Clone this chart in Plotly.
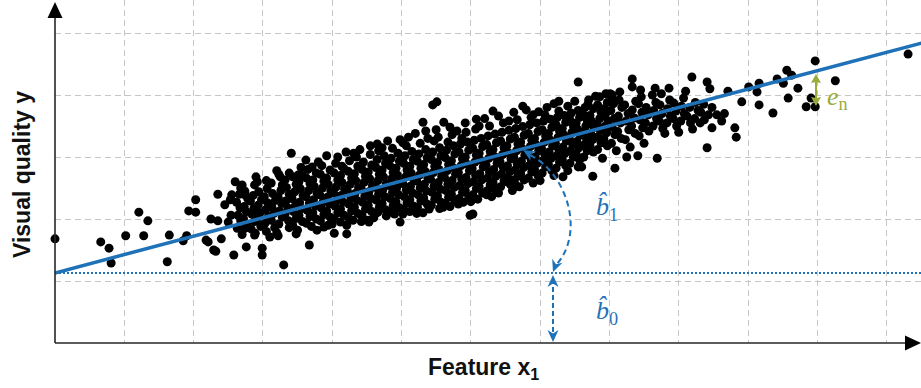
import math
import plotly.graph_objects as go

# ---------------- data ----------------
# Fitted regression: y = b0 + b1 * x
fit_b0 = 1.13
fit_b1 = 0.2965

# sparse / outlying observations
tail_x = [0.00, 0.66, 0.78, 0.81, 1.02, 1.21, 1.34, 1.28, 1.65, 1.62,
          1.85, 1.90, 1.93, 2.03, 2.03, 2.18, 2.21, 2.25, 2.35, 2.40,
          2.29, 2.32, 2.35, 2.45, 2.50, 2.53, 2.55, 2.54, 2.60, 2.58,
          2.76, 2.99, 2.99, 3.30, 3.67, 3.41, 2.74, 3.10, 3.22, 3.48,
          4.03, 4.21, 3.78, 3.94, 4.53, 4.98, 5.02, 5.31, 5.99, 6.03,
          5.60, 6.23, 6.35, 6.52, 6.61, 7.76, 8.08, 7.55, 7.33, 8.25,
          8.41, 8.69, 9.41, 5.45, 5.51, 5.31, 5.61, 5.35, 4.65, 5.02,
          4.31, 6.08, 6.32, 6.75, 6.98, 7.55, 7.27, 7.69, 7.86, 8.01,
          8.33, 8.33, 8.66, 8.86, 9.19, 9.41, 9.45, 9.71, 9.91, 10.01,
          10.16, 10.13, 10.16, 10.36, 10.42, 10.51, 10.56, 10.63, 10.72, 10.58,
          10.84, 10.91, 10.97, 10.97, 11.26, 12.31, 9.81, 9.83, 8.04, 8.04,
          3.71, 4.14, 3.25, 3.51, 4.21, 4.52, 4.66, 4.88, 5.89, 2.74,
          2.89, 9.55, 9.62, 9.66, 9.31, 9.48]
tail_y = [1.68, 1.63, 1.53, 1.29, 1.73, 2.11, 1.97, 1.73, 1.74, 1.31,
          1.65, 1.73, 2.13, 2.31, 2.11, 1.66, 1.63, 2.00, 1.97, 1.68,
          1.50, 1.48, 2.40, 2.23, 1.95, 2.31, 2.39, 2.06, 2.60, 1.42,
          1.55, 1.53, 1.42, 1.26, 1.58, 3.06, 2.39, 1.71, 1.73, 1.76,
          1.77, 1.76, 1.82, 1.90, 1.95, 1.95, 2.08, 2.10, 2.06, 2.08,
          2.19, 2.39, 2.47, 2.60, 2.63, 2.69, 2.82, 2.84, 2.68, 3.00,
          3.02, 2.98, 3.15, 3.84, 3.89, 3.56, 3.56, 3.42, 3.21, 3.23,
          3.06, 3.61, 3.74, 3.82, 3.73, 4.21, 3.90, 3.85, 3.97, 4.02,
          4.26, 4.13, 4.11, 4.11, 4.29, 4.21, 4.10, 4.06, 3.89, 4.13,
          4.19, 4.05, 3.84, 3.71, 4.26, 4.19, 4.40, 4.32, 4.11, 3.95,
          3.81, 3.95, 4.55, 3.81, 4.23, 4.66, 3.47, 3.32, 4.00, 3.92,
          2.84, 2.85, 2.68, 2.71, 1.90, 1.98, 2.11, 2.10, 2.27, 1.85,
          1.77, 3.68, 3.58, 3.70, 3.55, 3.47]

# points along the upper and lower edges of the cloud
fringe_x = [2.70, 2.90, 3.05, 3.20, 3.38, 3.55, 3.62, 3.80, 3.92, 4.08,
            4.20, 4.40, 4.55, 4.72, 4.80, 4.98, 5.10, 5.20, 5.38, 5.50,
            5.70, 5.80, 5.92, 6.12, 6.20, 6.40, 6.55, 6.62, 6.80, 6.90,
            7.10, 7.20, 7.40, 7.50, 7.70, 7.80, 7.95, 8.15, 8.45, 8.75,
            9.10,
            2.70, 2.88, 3.05, 3.20, 3.38, 3.50, 3.70, 3.88, 4.00, 4.12,
            4.30, 4.42, 4.60, 4.78, 4.90, 5.12, 5.22, 5.40, 5.55, 5.70,
            5.82, 6.00, 6.10, 6.30, 6.40, 6.60, 6.70, 6.90, 7.00, 7.20,
            7.40, 7.60, 7.90, 8.10, 8.30, 8.50, 8.80, 9.00, 9.20]
fringe_y = [2.55, 2.68, 2.62, 2.78, 2.74, 2.83, 2.95, 2.92, 3.02, 3.00,
            3.08, 3.12, 3.18, 3.15, 3.26, 3.28, 3.32, 3.38, 3.30, 3.44,
            3.48, 3.42, 3.55, 3.50, 3.62, 3.66, 3.58, 3.72, 3.76, 3.68,
            3.80, 3.86, 3.82, 3.90, 3.92, 3.98, 4.02, 4.05, 4.08, 4.02,
            4.06,
            1.75, 1.74, 1.80, 1.78, 1.86, 1.82, 1.88, 1.87, 1.92, 1.95,
            1.98, 1.96, 2.02, 2.05, 2.08, 2.12, 2.09, 2.16, 2.17, 2.20,
            2.24, 2.28, 2.32, 2.36, 2.42, 2.46, 2.52, 2.58, 2.62, 2.70,
            2.78, 2.84, 2.98, 3.10, 3.16, 3.22, 3.38, 3.40, 3.45]

# dense core of the point cloud
core_x = [
    2.63, 2.68, 2.64, 2.67, 2.62, 2.66, 2.68,
    2.77, 2.72, 2.76, 2.73, 2.78, 2.74,
    2.83, 2.88, 2.84, 2.87, 2.82, 2.86, 2.88,
    2.97, 2.92, 2.96, 2.93, 2.98, 2.94, 2.92,
    3.03, 3.08, 3.04, 3.07, 3.02, 3.06,
    3.17, 3.12, 3.16, 3.13, 3.18, 3.14, 3.12,
    3.23, 3.28, 3.24, 3.27, 3.22, 3.26, 3.28, 3.23,
    3.37, 3.32, 3.36, 3.33, 3.38, 3.34, 3.32,
    3.43, 3.48, 3.44, 3.47, 3.42, 3.46, 3.48, 3.43,
    3.57, 3.52, 3.56, 3.53, 3.58, 3.54, 3.52, 3.57,
    3.63, 3.68, 3.64, 3.67, 3.62, 3.66, 3.68, 3.63, 3.65,
    3.77, 3.72, 3.76, 3.73, 3.78, 3.74, 3.72, 3.77,
    3.83, 3.88, 3.84, 3.87, 3.82, 3.86, 3.88, 3.83, 3.85,
    3.97, 3.92, 3.96, 3.93, 3.98, 3.94, 3.92, 3.97,
    4.03, 4.08, 4.04, 4.07, 4.02, 4.06, 4.08, 4.03, 4.05,
    4.17, 4.12, 4.16, 4.13, 4.18, 4.14, 4.12, 4.17,
    4.23, 4.28, 4.24, 4.27, 4.22, 4.26, 4.28, 4.23, 4.25,
    4.37, 4.32, 4.36, 4.33, 4.38, 4.34, 4.32, 4.37, 4.35,
    4.43, 4.48, 4.44, 4.47, 4.42, 4.46, 4.48, 4.43, 4.45,
    4.57, 4.52, 4.56, 4.53, 4.58, 4.54, 4.52, 4.57, 4.55,
    4.63, 4.68, 4.64, 4.67, 4.62, 4.66, 4.68, 4.63, 4.65, 4.67,
    4.77, 4.72, 4.76, 4.73, 4.78, 4.74, 4.72, 4.77, 4.75,
    4.83, 4.88, 4.84, 4.87, 4.82, 4.86, 4.88, 4.83, 4.85, 4.87,
    4.97, 4.92, 4.96, 4.93, 4.98, 4.94, 4.92, 4.97, 4.95,
    5.03, 5.08, 5.04, 5.07, 5.02, 5.06, 5.08, 5.03, 5.05, 5.07,
    5.17, 5.12, 5.16, 5.13, 5.18, 5.14, 5.12, 5.17, 5.15,
    5.23, 5.28, 5.24, 5.27, 5.22, 5.26, 5.28, 5.23, 5.25, 5.27,
    5.37, 5.32, 5.36, 5.33, 5.38, 5.34, 5.32, 5.37, 5.35,
    5.43, 5.48, 5.44, 5.47, 5.42, 5.46, 5.48, 5.43, 5.45, 5.47,
    5.57, 5.52, 5.56, 5.53, 5.58, 5.54, 5.52, 5.57, 5.55, 5.53,
    5.63, 5.68, 5.64, 5.67, 5.62, 5.66, 5.68, 5.63, 5.65, 5.67,
    5.77, 5.72, 5.76, 5.73, 5.78, 5.74, 5.72, 5.77, 5.75, 5.73,
    5.83, 5.88, 5.84, 5.87, 5.82, 5.86, 5.88, 5.83, 5.85, 5.87,
    5.97, 5.92, 5.96, 5.93, 5.98, 5.94, 5.92, 5.97, 5.95, 5.93,
    6.03, 6.08, 6.04, 6.07, 6.02, 6.06, 6.08, 6.03, 6.05, 6.07,
    6.17, 6.12, 6.16, 6.13, 6.18, 6.14, 6.12, 6.17, 6.15,
    6.23, 6.28, 6.24, 6.27, 6.22, 6.26, 6.28, 6.23, 6.25, 6.27,
    6.37, 6.32, 6.36, 6.33, 6.38, 6.34, 6.32, 6.37, 6.35,
    6.43, 6.48, 6.44, 6.47, 6.42, 6.46, 6.48, 6.43, 6.45, 6.47,
    6.57, 6.52, 6.56, 6.53, 6.58, 6.54, 6.52, 6.57, 6.55,
    6.63, 6.68, 6.64, 6.67, 6.62, 6.66, 6.68, 6.63, 6.65, 6.67,
    6.77, 6.72, 6.76, 6.73, 6.78, 6.74, 6.72, 6.77, 6.75,
    6.83, 6.88, 6.84, 6.87, 6.82, 6.86, 6.88, 6.83, 6.85, 6.87,
    6.97, 6.92, 6.96, 6.93, 6.98, 6.94, 6.92, 6.97, 6.95,
    7.03, 7.08, 7.04, 7.07, 7.02, 7.06, 7.08, 7.03, 7.05, 7.07,
    7.17, 7.12, 7.16, 7.13, 7.18, 7.14, 7.12, 7.17, 7.15,
    7.23, 7.28, 7.24, 7.27, 7.22, 7.26, 7.28, 7.23, 7.25, 7.27,
    7.37, 7.32, 7.36, 7.33, 7.38, 7.34, 7.32, 7.37, 7.35,
    7.43, 7.48, 7.44, 7.47, 7.42, 7.46, 7.48, 7.43, 7.45,
    7.57, 7.52, 7.56, 7.53, 7.58, 7.54, 7.52, 7.57, 7.55,
    7.63, 7.68, 7.64, 7.67, 7.62, 7.66, 7.68, 7.63, 7.65,
    7.77, 7.72, 7.76, 7.73, 7.78, 7.74, 7.72, 7.77,
    7.83, 7.88, 7.84, 7.87, 7.82, 7.86, 7.88, 7.83,
    7.97, 7.92, 7.96, 7.93, 7.98, 7.94, 7.92, 7.97,
    8.03, 8.08, 8.04, 8.07, 8.02, 8.06,
    8.17, 8.12, 8.16, 8.13, 8.18, 8.14,
    8.23, 8.28, 8.24, 8.27, 8.22,
    8.37, 8.32, 8.36, 8.33, 8.38,
    8.43, 8.48, 8.44, 8.47, 8.42, 8.46,
    8.57, 8.52, 8.56, 8.53,
    8.63, 8.68, 8.64, 8.67, 8.62,
    8.77, 8.72, 8.76, 8.73,
    8.83, 8.88, 8.84, 8.87,
    8.97, 8.92, 8.96, 8.93,
    9.03, 9.08, 9.04, 9.07,
    9.17, 9.12, 9.16,
    9.23, 9.28, 9.24,
    9.37, 9.32, 9.36,
    9.43, 9.48,
]
core_y = [
    1.85, 1.97, 2.06, 2.18, 2.27, 2.40, 2.50,
    1.90, 2.01, 2.12, 2.20, 2.33, 2.45,
    1.84, 1.96, 2.08, 2.17, 2.29, 2.38, 2.55,
    1.88, 2.00, 2.10, 2.22, 2.31, 2.44, 2.60,
    1.93, 2.04, 2.15, 2.26, 2.36, 2.49,
    1.86, 1.98, 2.09, 2.19, 2.30, 2.41, 2.58,
    1.92, 2.03, 2.13, 2.25, 2.35, 2.46, 2.55, 2.72,
    1.97, 2.08, 2.18, 2.29, 2.40, 2.51, 2.63,
    1.90, 2.01, 2.12, 2.22, 2.33, 2.44, 2.56, 2.68,
    1.96, 2.06, 2.17, 2.27, 2.38, 2.49, 2.60, 2.70,
    1.93, 2.04, 2.14, 2.25, 2.36, 2.46, 2.57, 2.66, 2.80,
    2.00, 2.10, 2.21, 2.31, 2.42, 2.53, 2.63, 2.74,
    1.97, 2.07, 2.18, 2.28, 2.39, 2.50, 2.61, 2.72, 2.86,
    2.03, 2.13, 2.24, 2.35, 2.45, 2.56, 2.66, 2.79,
    2.00, 2.10, 2.21, 2.31, 2.42, 2.52, 2.63, 2.74, 2.90,
    2.06, 2.16, 2.27, 2.38, 2.48, 2.59, 2.70, 2.81,
    2.03, 2.13, 2.24, 2.34, 2.45, 2.56, 2.66, 2.77, 2.94,
    2.09, 2.19, 2.30, 2.41, 2.51, 2.62, 2.73, 2.85, 3.00,
    2.06, 2.16, 2.27, 2.37, 2.48, 2.59, 2.69, 2.80, 2.92,
    2.12, 2.22, 2.33, 2.44, 2.54, 2.65, 2.76, 2.87, 3.04,
    2.09, 2.19, 2.30, 2.40, 2.51, 2.62, 2.72, 2.83, 2.96, 3.10,
    2.15, 2.25, 2.36, 2.47, 2.57, 2.68, 2.79, 2.90, 3.02,
    2.12, 2.22, 2.33, 2.43, 2.54, 2.65, 2.75, 2.86, 2.98, 3.14,
    2.18, 2.28, 2.39, 2.50, 2.60, 2.71, 2.82, 2.93, 3.06,
    2.16, 2.26, 2.36, 2.47, 2.57, 2.68, 2.79, 2.90, 3.02, 3.18,
    2.21, 2.31, 2.42, 2.53, 2.63, 2.74, 2.85, 2.96, 3.09,
    2.19, 2.29, 2.39, 2.50, 2.61, 2.71, 2.82, 2.93, 3.05, 3.22,
    2.24, 2.34, 2.45, 2.56, 2.66, 2.77, 2.88, 2.99, 3.12,
    2.22, 2.32, 2.43, 2.53, 2.64, 2.75, 2.85, 2.96, 3.08, 3.26,
    2.27, 2.37, 2.48, 2.59, 2.69, 2.80, 2.91, 3.02, 3.15, 3.32,
    2.25, 2.35, 2.46, 2.56, 2.67, 2.78, 2.88, 2.99, 3.11, 3.24,
    2.30, 2.40, 2.51, 2.62, 2.72, 2.83, 2.94, 3.05, 3.18, 3.36,
    2.33, 2.43, 2.54, 2.64, 2.75, 2.86, 2.97, 3.08, 3.21, 3.30,
    2.36, 2.46, 2.57, 2.67, 2.78, 2.89, 3.00, 3.11, 3.24, 3.40,
    2.39, 2.49, 2.60, 2.70, 2.81, 2.92, 3.03, 3.14, 3.27, 3.45,
    2.42, 2.52, 2.63, 2.73, 2.84, 2.95, 3.06, 3.17, 3.30,
    2.45, 2.55, 2.66, 2.76, 2.87, 2.98, 3.09, 3.20, 3.34, 3.50,
    2.49, 2.59, 2.69, 2.80, 2.90, 3.01, 3.12, 3.23, 3.37,
    2.52, 2.62, 2.72, 2.83, 2.93, 3.04, 3.15, 3.26, 3.40, 3.55,
    2.56, 2.66, 2.76, 2.86, 2.97, 3.07, 3.18, 3.29, 3.43,
    2.59, 2.69, 2.79, 2.89, 3.00, 3.10, 3.21, 3.32, 3.46, 3.60,
    2.63, 2.73, 2.83, 2.93, 3.03, 3.14, 3.24, 3.35, 3.49,
    2.66, 2.76, 2.86, 2.96, 3.06, 3.17, 3.27, 3.38, 3.52, 3.64,
    2.70, 2.80, 2.90, 3.00, 3.10, 3.20, 3.30, 3.41, 3.55,
    2.74, 2.84, 2.94, 3.04, 3.14, 3.24, 3.34, 3.44, 3.58, 3.68,
    2.78, 2.88, 2.98, 3.08, 3.18, 3.28, 3.38, 3.48, 3.61,
    2.82, 2.92, 3.02, 3.12, 3.22, 3.32, 3.42, 3.52, 3.64, 3.74,
    2.86, 2.96, 3.06, 3.16, 3.26, 3.36, 3.46, 3.56, 3.67,
    2.90, 3.00, 3.10, 3.20, 3.30, 3.40, 3.50, 3.60, 3.71,
    2.95, 3.05, 3.15, 3.25, 3.35, 3.45, 3.55, 3.64, 3.75,
    3.00, 3.10, 3.20, 3.30, 3.40, 3.50, 3.59, 3.68, 3.80,
    3.08, 3.18, 3.28, 3.38, 3.48, 3.58, 3.67, 3.78,
    3.12, 3.23, 3.33, 3.43, 3.53, 3.62, 3.72, 3.84,
    3.18, 3.29, 3.39, 3.49, 3.58, 3.68, 3.78, 3.88,
    3.22, 3.36, 3.48, 3.62, 3.75, 3.86,
    3.30, 3.41, 3.55, 3.66, 3.80, 3.92,
    3.28, 3.44, 3.58, 3.70, 3.84,
    3.38, 3.50, 3.63, 3.76, 3.90,
    3.34, 3.47, 3.60, 3.72, 3.86, 3.97,
    3.42, 3.55, 3.68, 3.80,
    3.50, 3.62, 3.75, 3.88, 4.00,
    3.46, 3.58, 3.70, 3.84,
    3.55, 3.66, 3.78, 3.92,
    3.50, 3.62, 3.74, 3.87,
    3.58, 3.70, 3.82, 3.95,
    3.55, 3.66, 3.80,
    3.62, 3.75, 3.88,
    3.60, 3.72, 3.85,
    3.68, 3.80,
]
assert len(tail_x) == len(tail_y)
assert len(fringe_x) == len(fringe_y)
assert len(core_x) == len(core_y)

# ---------------- styling ----------------
BLUE = "#1f72b8"
GREEN = "#9aab3c"
AXIS = "#262626"
GRID = "#c6c6c6"

IMG_W, IMG_H = 921, 388
ML, MT, MB, MR = 55, 0, 45, 0
PW, PH = IMG_W - ML - MR, IMG_H - MT - MB
XU, YU = 69.3, 62.0          # pixels per grid unit
x_max = PW / XU
y_max = PH / YU


def fx(p):  # pixel x -> paper
    return (p - ML) / PW


def fy(p):  # pixel y -> paper
    return (MT + PH - p) / PH


def poly(points):
    return "M " + " L ".join(f"{fx(a):.5f},{fy(b):.5f}" for a, b in points) + " Z"


def head(tx, ty, dx, dy, length=12.0, width=11.0, notch=0.7):
    n = math.hypot(dx, dy)
    ux, uy = dx / n, dy / n
    px_, py_ = -uy, ux
    bx, by = tx - length * ux, ty - length * uy
    p1 = (bx + width / 2 * px_, by + width / 2 * py_)
    p2 = (bx - width / 2 * px_, by - width / 2 * py_)
    nc = (tx - notch * length * ux, ty - notch * length * uy)
    return poly([(tx, ty), p1, nc, p2])


fig = go.Figure()

fig.add_trace(go.Scatter(
    x=tail_x + fringe_x + core_x, y=tail_y + fringe_y + core_y, mode="markers",
    marker=dict(color="black", size=9, line=dict(width=0)),
    cliponaxis=False, hoverinfo="skip", showlegend=False))

fit_x = [0.0, x_max + 0.2]
fit_y = [fit_b0 + fit_b1 * v for v in fit_x]
fig.add_trace(go.Scatter(
    x=fit_x, y=fit_y, mode="lines",
    line=dict(color=BLUE, width=3.5), hoverinfo="skip", showlegend=False))

shapes = []
shapes.append(dict(type="line", xref="paper", yref="y", x0=0, x1=1,
                   y0=fit_b0, y1=fit_b0,
                   line=dict(color=BLUE, width=2, dash="2px,2px")))
shapes.append(dict(type="line", xref="paper", yref="paper",
                   x0=fx(55), x1=fx(55), y0=fy(343), y1=fy(16),
                   line=dict(color=AXIS, width=1.6)))
shapes.append(dict(type="line", xref="paper", yref="paper",
                   x0=fx(55), x1=fx(907), y0=fy(343), y1=fy(343),
                   line=dict(color=AXIS, width=1.6)))
shapes.append(dict(type="path", xref="paper", yref="paper",
                   path=head(55, 2, 0, -1, length=16, width=15, notch=1.0),
                   fillcolor="black", line=dict(width=0)))
shapes.append(dict(type="path", xref="paper", yref="paper",
                   path=head(921, 343, 1, 0, length=16, width=15, notch=1.0),
                   fillcolor="black", line=dict(width=0)))

# b0 double arrow (dashed)
shapes.append(dict(type="line", xref="paper", yref="paper",
                   x0=fx(553), x1=fx(553), y0=fy(279), y1=fy(337),
                   line=dict(color=BLUE, width=2, dash="5px,3px")))
shapes.append(dict(type="path", xref="paper", yref="paper",
                   path=head(553, 275, 0, -1), fillcolor=BLUE, line=dict(width=0)))
shapes.append(dict(type="path", xref="paper", yref="paper",
                   path=head(553, 342, 0, 1), fillcolor=BLUE, line=dict(width=0)))

# b1 curved arrow (dashed)
arc = (f"M {fx(530):.5f},{fy(155):.5f} "
       f"C {fx(565):.5f},{fy(172):.5f} {fx(586):.5f},{fy(230):.5f} "
       f"{fx(557):.5f},{fy(264):.5f}")
shapes.append(dict(type="path", xref="paper", yref="paper", path=arc,
                   line=dict(color=BLUE, width=2, dash="6px,4px")))
shapes.append(dict(type="path", xref="paper", yref="paper",
                   path=head(523, 150, -17, -10), fillcolor=BLUE, line=dict(width=0)))
shapes.append(dict(type="path", xref="paper", yref="paper",
                   path=head(553, 272, -5, 13), fillcolor=BLUE, line=dict(width=0)))

# residual e_n arrow
shapes.append(dict(type="line", xref="paper", yref="paper",
                   x0=fx(816), x1=fx(816), y0=fy(80), y1=fy(100),
                   line=dict(color=GREEN, width=2)))
shapes.append(dict(type="path", xref="paper", yref="paper",
                   path=head(816, 74, 0, -1, length=9, width=10, notch=0.9),
                   fillcolor=GREEN, line=dict(width=0)))
shapes.append(dict(type="path", xref="paper", yref="paper",
                   path=head(816, 106, 0, 1, length=9, width=10, notch=0.9),
                   fillcolor=GREEN, line=dict(width=0)))

TITLE_FONT = dict(family="Liberation Sans, Arial", size=23, color="#111111")
MATH_FONT = "Liberation Serif, DejaVu Serif"
annotations = [
    dict(text="<b>Visual quality y</b>", x=fx(22), y=fy(175), xref="paper",
         yref="paper", textangle=-90, showarrow=False,
         xanchor="center", yanchor="middle", font=TITLE_FONT),
    dict(text="<b>Feature x<sub>1</sub></b>", x=fx(483), y=fy(369), xref="paper",
         yref="paper", showarrow=False,
         xanchor="center", yanchor="middle", font=TITLE_FONT),
    dict(text="<i>b̂</i><sub>1</sub>", x=fx(594), y=fy(208), xref="paper",
         yref="paper", showarrow=False, xanchor="left", yanchor="middle",
         font=dict(family=MATH_FONT, size=26, color=BLUE)),
    dict(text="<i>b̂</i><sub>0</sub>", x=fx(594), y=fy(312), xref="paper",
         yref="paper", showarrow=False, xanchor="left", yanchor="middle",
         font=dict(family=MATH_FONT, size=26, color=BLUE)),
    dict(text="<i>e</i><sub>n</sub>", x=fx(825), y=fy(98), xref="paper",
         yref="paper", showarrow=False, xanchor="left", yanchor="middle",
         font=dict(family=MATH_FONT, size=26, color=GREEN)),
]

axis_common = dict(showgrid=True, gridcolor=GRID, gridwidth=1, griddash="6px,4px",
                   showticklabels=False, ticks="", zeroline=False, showline=False,
                   tick0=0, dtick=1, fixedrange=True)

fig.update_layout(
    width=IMG_W, height=IMG_H,
    margin=dict(l=ML, r=MR, t=MT, b=MB, pad=0),
    paper_bgcolor="white", plot_bgcolor="white",
    xaxis=dict(range=[0, x_max], **axis_common),
    yaxis=dict(range=[0, y_max], **axis_common),
    shapes=shapes, annotations=annotations, showlegend=False,
)

fig.write_html("out.html")
